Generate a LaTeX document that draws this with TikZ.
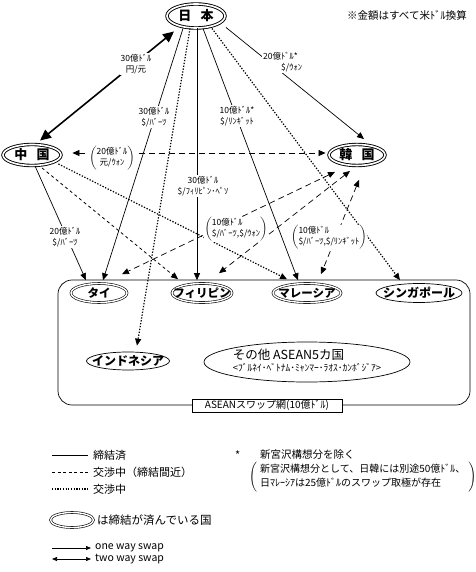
\documentclass[tikz,border=0pt]{standalone}
\usepackage{fontspec}
\setmainfont{Noto Sans CJK JP}
\usetikzlibrary{shapes.geometric,arrows.meta}
\newcommand{\fsz}[2]{\fontsize{#1}{#2}\selectfont}
\newcommand{\zwbox}[1]{\makebox[0pt]{#1}}

\begin{document}
\begin{tikzpicture}[x=1pt,y=-1pt,
        kuni/.style={ellipse,draw,double,double distance=1.6pt,line width=0.9pt,inner sep=0pt,minimum height=21pt,font=\bfseries\fsz{13}{13}},
        amem/.style={ellipse,draw,double,double distance=1.4pt,line width=0.6pt,inner sep=0pt,minimum height=19pt,font=\bfseries\fsz{11.5}{12}},
        smem/.style={ellipse,draw,line width=0.7pt,inner sep=0pt,minimum height=19pt,font=\bfseries\fsz{12}{12}},
        amt/.style={fill=white,inner sep=1pt,align=center,font=\fsz{8.5}{11}},
        amtb/.style={fill=white,inner sep=0.5pt,font=\fsz{8.5}{11}},
        solidln/.style={line width=0.7pt,->},
        dashln/.style={line width=0.7pt,<->,dash pattern=on 6pt off 4pt},
        dotln/.style={line width=1.2pt,->,dash pattern=on 1.3pt off 1.6pt},
        shortln/.style={line width=0.8pt,->,dash pattern=on 3pt off 3pt},
        leg/.style={anchor=west,inner sep=0pt,font=\fsz{11}{13}},
        >={Triangle[length=7pt,width=6pt]}
    ]
        \useasboundingbox (0,0) rectangle (475,572);

        \node[kuni,minimum width=58pt,minimum height=24pt] (nihon) at (196,16) {日\hspace{0.7em}本};
        \node[kuni,minimum width=58pt] (chugoku) at (32,155) {中\hspace{0.7em}国};
        \node[kuni,minimum width=56pt] (kankoku) at (357,155) {韓\hspace{0.7em}国};

        \node[amem,minimum width=56pt] (tai) at (99,293) {タイ};
        \node[amem,minimum width=60pt] (phil) at (202,293) {\zwbox{フィリピン}};
        \node[amem,minimum width=68pt] (malay) at (307,293) {\zwbox{マレーシア}};
        \node[smem,minimum width=86pt] (sing) at (419,293) {\zwbox{シンガポール}};
        \node[smem,minimum width=83pt,minimum height=18pt] (indo) at (128,361) {\zwbox{インドネシア}};
        \node[smem,minimum width=206pt,minimum height=40pt,font=\fsz{12.5}{12.5}] (sonota) at (307,362)
            {\zwbox{\begin{tabular}{@{}l@{}}その他 ASEAN5カ国\\{\fsz{9.5}{12}<ﾌﾞﾙﾈｲ･ﾍﾞﾄﾅﾑ･ﾐｬﾝﾏｰ･ﾗｵｽ･ｶﾝﾎﾞｼﾞｱ>}\end{tabular}}};

        \node[draw,line width=0.7pt,rounded corners=14pt,minimum width=412pt,minimum height=125pt,inner sep=0pt] (aseanbox) at (264,342.5) {};

        \draw[line width=1.6pt,{Triangle[length=11pt,width=10pt]}-{Triangle[length=11pt,width=10pt]}]
            ([xshift=-22pt,yshift=-3pt]nihon.south) -- ([xshift=8pt,yshift=3.5pt]chugoku.north);
        \draw[solidln] ([xshift=-13pt]nihon.south) -- ([xshift=4pt,yshift=3pt]tai.north);
        \draw[dotln] ([xshift=-6pt]nihon.south) -- ([xshift=9pt,yshift=6pt]indo.north);
        \draw[solidln] ([xshift=1pt]nihon.south) -- ([xshift=-5pt,yshift=3pt]phil.north);
        \draw[solidln] ([xshift=7pt]nihon.south) -- ([xshift=-9pt,yshift=3pt]malay.north);
        \draw[dotln] ([xshift=16pt]nihon.south) -- ([xshift=-19pt,yshift=3pt]sing.north);
        \draw[solidln] ([xshift=30pt,yshift=1pt]nihon.south) -- ([xshift=7pt,yshift=5pt]kankoku.north);

        \draw[dashln] ([xshift=11pt,yshift=2pt]chugoku.east) -- ([xshift=-3pt,yshift=2pt]kankoku.west);
        \draw[solidln] ([xshift=3pt]chugoku.south) -- ([xshift=-13pt,yshift=3pt]tai.north);
        \draw[shortln] ([xshift=10pt,yshift=-2pt]chugoku.south) -- ([xshift=-24pt,yshift=4pt]phil.north);
        \draw[dotln] ([xshift=-3pt,yshift=-9pt]chugoku.east) -- ([xshift=-20pt,yshift=4pt]malay.north);

        \draw[dashln] ([xshift=-22pt,yshift=-6pt]kankoku.south) -- ([xshift=23pt,yshift=9pt]tai.north);
        \draw[dashln] ([xshift=-7pt,yshift=-5pt]kankoku.south) -- ([xshift=17pt,yshift=10pt]phil.north);
        \draw[dashln] ([xshift=2pt,yshift=-14pt]kankoku.south) -- ([xshift=14pt,yshift=9pt]malay.north);

        \node[amt] (l1) at (136,64) {30億ﾄﾞﾙ\\円/元};
        \node[amt] (l2) at (154,117) {30億ﾄﾞﾙ\\\$/ﾊﾞｰﾂ};
        \node[amt] (l3) at (203,186) {30億ﾄﾞﾙ\\\$/ﾌｨﾘﾋﾟﾝ･ﾍﾟｿ};
        \node[amt] (l4) at (237,116) {10億ﾄﾞﾙ*\\\$/ﾘﾝｷﾞｯﾄ};
        \node[amt,align=left,anchor=west] (l5) at (262,62) {20億ﾄﾞﾙ*\\\hspace*{18pt}\$/ｳｫﾝ};
        \node[amtb] (l6) at (112,158) {$\left(\begin{tabular}{@{}c@{}}20億ﾄﾞﾙ\\元/ｳｫﾝ\end{tabular}\right)$};
        \node[amt] (l7) at (65,237) {20億ﾄﾞﾙ\\\$/ﾊﾞｰﾂ};
        \node[amtb] (l8) at (236,229) {$\left(\begin{tabular}{@{}l@{}}10億ﾄﾞﾙ\\\$/ﾊﾞｰﾂ,\$/ｳｫﾝ\end{tabular}\right)$};
        \node[amtb] (l9) at (329,237) {$\left(\begin{tabular}{@{}l@{}}10億ﾄﾞﾙ\\\$/ﾊﾞｰﾂ,\$/ﾘﾝｷﾞｯﾄ\end{tabular}\right)$};

        \node[draw,fill=white,line width=0.7pt,inner sep=1pt,minimum width=150pt,minimum height=13pt,font=\fsz{10}{10}] (aseanlbl)
            at ([xshift=3pt]aseanbox.south) {ASEANスワップ網(10億ﾄﾞﾙ)};

        \node[anchor=east,inner sep=0pt,font=\fsz{10.5}{12}] (chuki) at (467,15) {※金額はすべて米ﾄﾞﾙ換算};

        \node[leg] (k1) at (93,455) {締結済};
        \node[leg] (k2) at (93,472) {交渉中（締結間近）};
        \node[leg] (k3) at (93,489) {交渉中};
        \draw[line width=0.7pt] ([xshift=-41pt]k1.west) -- ([xshift=-5pt]k1.west);
        \draw[line width=0.7pt,dash pattern=on 3pt off 2.5pt] ([xshift=-41pt]k2.west) -- ([xshift=-5pt]k2.west);
        \draw[line width=1.2pt,dash pattern=on 1.2pt off 1.5pt] ([xshift=-41pt]k3.west) -- ([xshift=-5pt]k3.west);

        \node[amem,minimum width=43pt,minimum height=15pt] (kell) at (72,520) {};
        \node[leg,font=\fsz{11.5}{13}] (k4) at (97,520) {は締結が済んでいる国};

        \node[leg,font=\fsz{10.5}{12}] (k5) at (95,548) {one way swap};
        \node[leg,font=\fsz{10.5}{12}] (k6) at (95,559) {two way swap};
        \draw[line width=0.7pt,-{Triangle[length=5pt,width=4pt]}] ([xshift=-43pt]k5.west) -- ([xshift=-4pt]k5.west);
        \draw[line width=0.7pt,{Triangle[length=5pt,width=4pt]}-{Triangle[length=5pt,width=4pt]}] ([xshift=-43pt]k6.west) -- ([xshift=-4pt]k6.west);

        \node[leg] (ast) at (235,455) {*};
        \node[leg,font=\fsz{10.5}{13}] (jogai) at (260,455) {新宮沢構想分を除く};
        \node[anchor=west,inner sep=0pt,font=\fsz{10}{13.5}] (hosoku) at (249,477)
            {$\left(\begin{tabular}{@{\hspace{3pt}}l@{\hspace{3pt}}}新宮沢構想分として、日韓には別途50億ﾄﾞﾙ、\\日ﾏﾚｰｼｱは25億ﾄﾞﾙのスワップ取極が存在\end{tabular}\right)$};
\end{tikzpicture}
\end{document}
